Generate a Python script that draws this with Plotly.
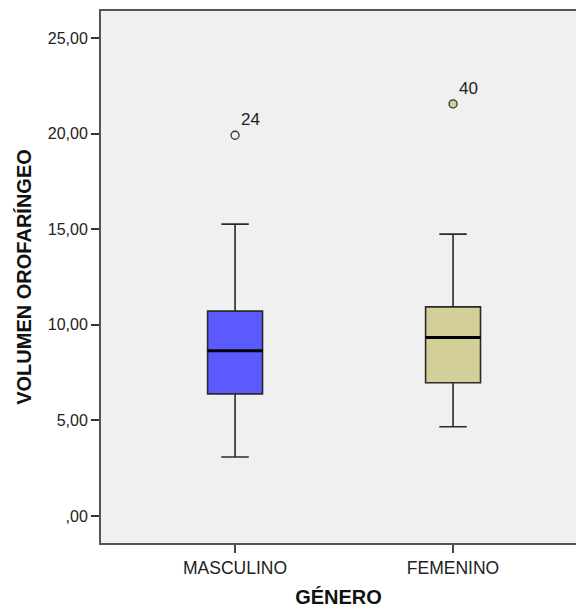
import plotly.graph_objects as go

categories = ["MASCULINO", "FEMENINO"]
q1 = [6.39, 6.97]
median = [8.65, 9.34]
q3 = [10.72, 10.94]
lower_whisker = [3.09, 4.67]
upper_whisker = [15.27, 14.75]
outlier_values = [19.92, 21.56]
outlier_ids = ["24", "40"]
fill_colors = ["#5A5AFF", "#D3CF98"]
outlier_fill = ["#F0F0F0", "#D3CF98"]
tick_values = [0, 5, 10, 15, 20, 25]
tick_labels = [",00", "5,00", "10,00", "15,00", "20,00", "25,00"]

positions = list(range(len(categories)))
box_width = 0.252
FONT = "Liberation Sans, Arial, sans-serif"

fig = go.Figure()
for i, cat in enumerate(categories):
    fig.add_trace(go.Box(
        x=[positions[i]],
        q1=[q1[i]], median=[median[i]], q3=[q3[i]],
        lowerfence=[lower_whisker[i]], upperfence=[upper_whisker[i]],
        width=box_width, whiskerwidth=0.5,
        fillcolor=fill_colors[i],
        line=dict(color="#2a2a2a", width=1.6),
        boxpoints=False, showlegend=False, name=cat,
    ))
    # thick median line
    fig.add_trace(go.Scatter(
        x=[positions[i] - box_width / 2, positions[i] + box_width / 2],
        y=[median[i], median[i]], mode="lines",
        line=dict(color="black", width=3), showlegend=False, hoverinfo="skip",
    ))
    # outlier
    fig.add_trace(go.Scatter(
        x=[positions[i]], y=[outlier_values[i]], mode="markers+text",
        marker=dict(size=8, color=outlier_fill[i], line=dict(color="#333333", width=1.3)),
        text=[outlier_ids[i]], textposition="top right",
        textfont=dict(family=FONT, size=17, color="#222222"),
        showlegend=False, cliponaxis=False,
    ))

fig.update_layout(
    width=576, height=608,
    margin=dict(l=101, r=0, t=11, b=63),
    paper_bgcolor="white", plot_bgcolor="#F0F0F0",
    font=dict(family=FONT, color="#222222"),
)
fig.update_xaxes(
    range=[-0.615, 1.564],
    tickvals=positions, ticktext=categories,
    tickfont=dict(size=17.5, color="#222222"),
    ticks="outside", ticklen=8, tickwidth=2, tickcolor="#444444",
    showline=True, linecolor="#555555", linewidth=2, mirror=True,
    showgrid=False, zeroline=False,
    title=dict(text="<b>GÉNERO</b>", font=dict(size=20, color="#111111"), standoff=16),
)
fig.update_yaxes(
    range=[-1.41, 26.42],
    tickvals=tick_values, ticktext=tick_labels,
    tickfont=dict(size=16, color="#222222"),
    ticks="outside", ticklen=8, tickwidth=2, tickcolor="#333333",
    showline=True, linecolor="#555555", linewidth=2, mirror=False,
    showgrid=False, zeroline=False,
    title=dict(text="<b>VOLUMEN OROFARÍNGEO</b>", font=dict(size=20, color="#111111"), standoff=11),
)

fig.write_html(
    "out.html",
    config={"displayModeBar": False},
    post_script="document.body.style.margin='0';document.body.style.overflow='hidden';",
)
